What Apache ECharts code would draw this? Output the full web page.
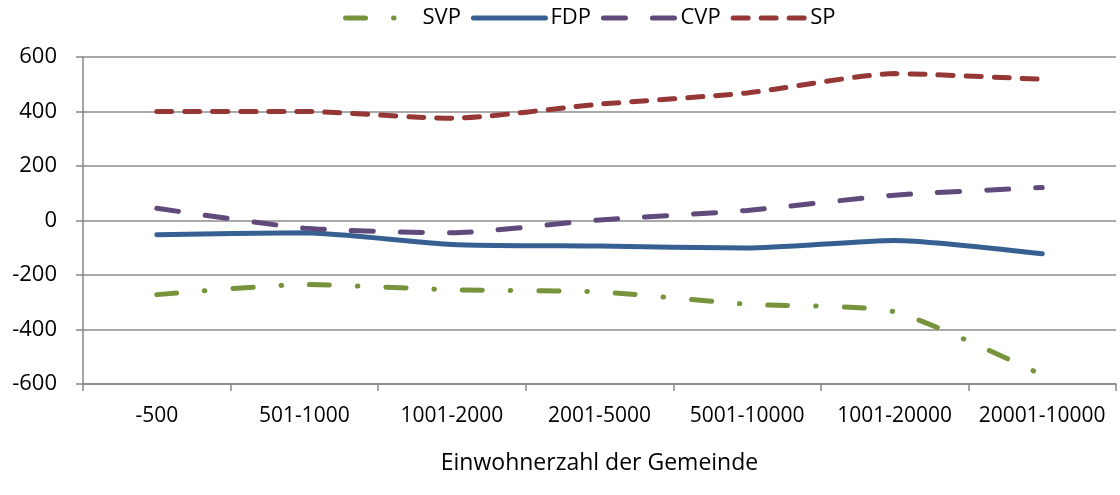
<!DOCTYPE html>
<html>
<head>
<meta charset="utf-8">
<script src="https://cdn.jsdelivr.net/npm/echarts@6/dist/echarts.min.js"></script>
<style>
  html, body { margin: 0; padding: 0; background: #fff; }
  #chart { width: 1120px; height: 495px; }
</style>
</head>
<body>
<div id="chart"></div>
<script>
// Kategorien (Gemeindegrösse)
const categories = ['-500', '501-1000', '1001-2000', '2001-5000', '5001-10000', '1001-20000', '20001-10000'];

// Werte pro Partei
const svp = [-272, -235, -254, -262, -307, -335, -567];
const fdp = [-52, -45, -88, -94, -101, -73, -122];
const cvp = [45, -28, -45, 2, 37, 93, 121];
const sp = [400, 400, 375, 427, 468, 539, 518];

const yTicks = [-600, 600, 200]; // min, max, interval

const font = 'Open Sans';

let chart = echarts.init(document.getElementById('chart'));

chart.setOption({
  animation: false,
  legend: {
    top: 2,
    left: 338,
    itemWidth: 72,
    itemHeight: 14,
    itemGap: 10,
    itemStyle: { opacity: 0 },
    lineStyle: { width: 5 },
    textStyle: { fontFamily: font, fontSize: 22, color: '#000' },
    data: ['SVP', 'FDP', 'CVP', 'SP']
  },
  grid: {
    left: 83,
    right: 4,
    top: 57,
    bottom: 111
  },
  xAxis: {
    type: 'category',
    data: categories,
    boundaryGap: true,
    name: 'Einwohnerzahl der Gemeinde',
    nameLocation: 'middle',
    nameGap: 68,
    nameTextStyle: { fontFamily: font, fontSize: 23, color: '#000' },
    axisLine: { onZero: false, lineStyle: { color: '#868686', width: 1.5 } },
    axisTick: { show: true, interval: 0, length: 7, lineStyle: { color: '#868686', width: 1.5 } },
    axisLabel: { interval: 0, hideOverlap: false, fontFamily: font, fontSize: 21, color: '#000', margin: 22 }
  },
  yAxis: {
    type: 'value',
    min: yTicks[0],
    max: yTicks[1],
    interval: yTicks[2],
    axisLine: { show: true, lineStyle: { color: '#868686', width: 1.5 } },
    axisTick: { show: true, length: 7, lineStyle: { color: '#868686', width: 1.5 } },
    axisLabel: { fontFamily: font, fontSize: 22, color: '#000', margin: 26 },
    splitLine: { lineStyle: { color: '#8c8c8c', width: 1.5 } }
  },
  series: [
    {
      name: 'SVP',
      type: 'line',
      data: svp,
      smooth: 0.2,
      symbol: 'none',
      itemStyle: { color: '#77933c' },
      lineStyle: { color: '#77933c', width: 5, type: [20, 28, 0.5, 28], cap: 'round' }
    },
    {
      name: 'FDP',
      type: 'line',
      data: fdp,
      smooth: 0.2,
      symbol: 'none',
      itemStyle: { color: '#376092' },
      lineStyle: { color: '#376092', width: 5, type: 'solid', cap: 'round' }
    },
    {
      name: 'CVP',
      type: 'line',
      data: cvp,
      smooth: 0.2,
      symbol: 'none',
      itemStyle: { color: '#604a7b' },
      lineStyle: { color: '#604a7b', width: 5, type: [22, 27], cap: 'round' }
    },
    {
      name: 'SP',
      type: 'line',
      data: sp,
      smooth: 0.2,
      symbol: 'none',
      itemStyle: { color: '#953735' },
      lineStyle: { color: '#953735', width: 5, type: [15, 13], cap: 'round' }
    }
  ]
});
</script>
</body>
</html>
